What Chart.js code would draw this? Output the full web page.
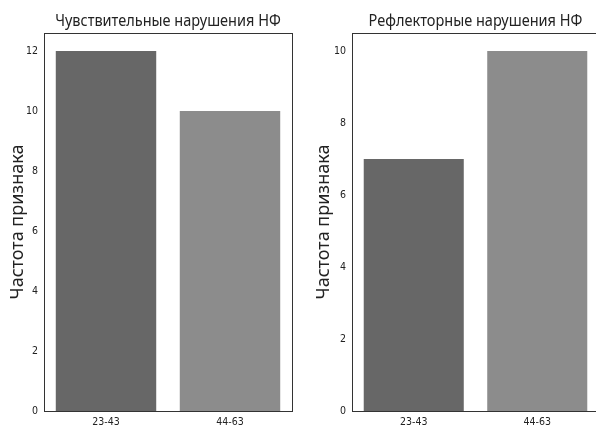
<!DOCTYPE html>
<html><head><meta charset="utf-8">
<script src="https://cdn.jsdelivr.net/npm/chart.js@4"></script>
<style>
html,body{margin:0;padding:0;background:#fff;width:596px;height:428px;overflow:hidden;position:relative}
.box{position:absolute;top:0;height:428px}
</style></head><body>
<div class="box" style="left:0;width:300px"><canvas id="c1"></canvas></div>
<div class="box" style="left:300px;width:300px"><canvas id="c2"></canvas></div>
<script>
const categories = ['23-43', '44-63'];
const sensoryValues = [12, 10];
const reflexValues = [7, 10];
const sensoryTicks = [0, 2, 4, 6, 8, 10, 12];
const reflexTicks = [0, 2, 4, 6, 8, 10];
const titles = ['Чувствительные нарушения НФ', 'Рефлекторные нарушения НФ'];
const yTitle = 'Частота признака';
const barColors = ['#676767', '#8c8c8c'];

const frame = {
  id: 'frame',
  afterDatasetsDraw(chart, args, opts) {
    const a = chart.chartArea, ctx = chart.ctx;
    ctx.save();
    ctx.strokeStyle = '#333';
    ctx.lineWidth = 1;
    ctx.strokeRect(Math.round(a.left) + 0.5, Math.round(a.top) + 0.5, Math.round(a.right - a.left), Math.round(a.bottom - a.top));
    // centered title over plot area, slightly condensed
    const t = chart.options.plugins.frame.text;
    const cx = (a.left + a.right) / 2;
    ctx.translate(cx, 21);
    ctx.scale(0.88, 1);
    ctx.fillStyle = '#222';
    ctx.font = '16.5px "Noto Sans"';
    ctx.textAlign = 'center';
    ctx.textBaseline = 'middle';
    ctx.fillText(t, 0, 0);
    ctx.restore();
  }
};

function make(id, values, ticks, yMax, title, yAxisW, titlePad, rightPad) {
  const ctx = document.getElementById(id);
  return new Chart(ctx, {
    type: 'bar',
    data: {
      labels: categories,
      datasets: [{ data: values, backgroundColor: barColors, borderWidth: 0,
        barPercentage: 0.81, categoryPercentage: 1 }]
    },
    options: {
      responsive: true, maintainAspectRatio: false, animation: false,
      layout: { padding: { left: 0, right: rightPad, top: 33, bottom: 0 } },
      plugins: {
        legend: { display: false }, tooltip: { enabled: false },
        title: { display: false },
        frame: { text: title }
      },
      scales: {
        x: {
          offset: true,
          grid: { display: false, drawTicks: true, tickLength: 3, tickColor: '#333' },
          border: { display: false },
          ticks: { color: '#222', padding: 2, font: { family: 'DejaVu Sans Condensed', size: 10.5 }, maxRotation: 0 },
          afterFit(s) { s.height = 17; }
        },
        y: {
          min: 0, max: yMax,
          afterBuildTicks(s) { s.ticks = ticks.map(v => ({ value: v })); },
          grid: { display: false, drawTicks: true, tickLength: 3, tickColor: '#333' },
          border: { display: false },
          ticks: { color: '#222', padding: 3, font: { family: 'DejaVu Sans Condensed', size: 10.5 } },
          title: { display: true, text: yTitle, color: '#222',
            font: { family: 'Noto Sans', size: 18 }, padding: { top: titlePad, bottom: 0 } },
          afterFit(s) { s.width = yAxisW; }
        }
      }
    },
    plugins: [frame]
  });
}
make('c1', sensoryValues, sensoryTicks, 12.6, titles[0], 44, 7, 8);
make('c2', reflexValues, reflexTicks, 10.5, titles[1], 52, 13, 1);
</script>
</body></html>
